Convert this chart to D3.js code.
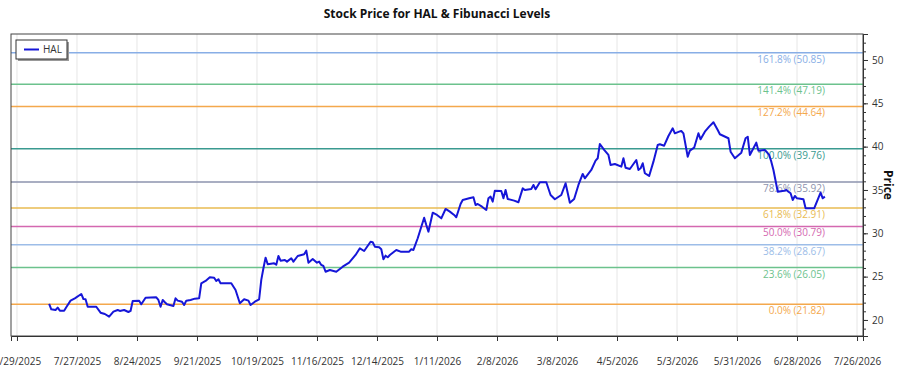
<!DOCTYPE html>
<html>
<head>
<meta charset="utf-8">
<script src="https://cdn.jsdelivr.net/npm/d3@7"></script>
<style>
  body { margin: 0; background: #fff; }
  svg { font-family: "Open Sans", "Noto Sans", sans-serif; }
</style>
</head>
<body>
<svg></svg>
<script>
// Data
var ticker = 'HAL';
var dates = ['2025-07-14','2025-07-15','2025-07-17','2025-07-18','2025-07-19','2025-07-21','2025-07-22','2025-07-24','2025-07-26','2025-07-29',
  '2025-07-30','2025-07-31','2025-08-01','2025-08-05','2025-08-07','2025-08-09','2025-08-11','2025-08-13','2025-08-15','2025-08-16',
  '2025-08-18','2025-08-20','2025-08-21','2025-08-22','2025-08-25','2025-08-26','2025-08-28','2025-09-02','2025-09-03','2025-09-04',
  '2025-09-05','2025-09-06','2025-09-07','2025-09-10','2025-09-11','2025-09-12','2025-09-14','2025-09-15','2025-09-16','2025-09-18',
  '2025-09-20','2025-09-22','2025-09-23','2025-09-25','2025-09-27','2025-09-29','2025-09-30','2025-10-01','2025-10-02','2025-10-07',
  '2025-10-09','2025-10-11','2025-10-13','2025-10-15','2025-10-16','2025-10-18','2025-10-20','2025-10-21','2025-10-22','2025-10-23',
  '2025-10-24','2025-10-27','2025-10-28','2025-10-29','2025-10-30','2025-11-01','2025-11-02','2025-11-04','2025-11-05','2025-11-07',
  '2025-11-10','2025-11-11','2025-11-12','2025-11-14','2025-11-16','2025-11-17','2025-11-18','2025-11-19','2025-11-20','2025-11-22',
  '2025-11-25','2025-11-28','2025-12-01','2025-12-04','2025-12-06','2025-12-08','2025-12-11','2025-12-12','2025-12-13','2025-12-15',
  '2025-12-16','2025-12-17','2025-12-18','2025-12-19','2025-12-20','2025-12-23','2025-12-25','2025-12-29','2025-12-30','2025-12-31',
  '2026-01-02','2026-01-05','2026-01-06','2026-01-07','2026-01-09','2026-01-11','2026-01-13','2026-01-15','2026-01-17','2026-01-19',
  '2026-01-20','2026-01-22','2026-01-23','2026-01-26','2026-01-28','2026-01-29','2026-01-30','2026-02-01','2026-02-03','2026-02-04',
  '2026-02-05','2026-02-06','2026-02-07','2026-02-10','2026-02-11','2026-02-12','2026-02-13','2026-02-16','2026-02-18','2026-02-20',
  '2026-02-21','2026-02-24','2026-02-25','2026-02-26','2026-02-28','2026-03-03','2026-03-05','2026-03-07','2026-03-10','2026-03-12',
  '2026-03-14','2026-03-16','2026-03-18','2026-03-20','2026-03-21','2026-03-24','2026-03-26','2026-03-27','2026-03-28','2026-03-30',
  '2026-04-01','2026-04-02','2026-04-04','2026-04-07','2026-04-08','2026-04-09','2026-04-11','2026-04-14','2026-04-15','2026-04-16',
  '2026-04-17','2026-04-18','2026-04-20','2026-04-22','2026-04-24','2026-04-25','2026-04-27','2026-04-29','2026-05-01','2026-05-02',
  '2026-05-04','2026-05-05','2026-05-06','2026-05-08','2026-05-09','2026-05-11','2026-05-13','2026-05-14','2026-05-16','2026-05-18',
  '2026-05-20','2026-05-22','2026-05-23','2026-05-27','2026-05-28','2026-05-30','2026-06-02','2026-06-04','2026-06-05','2026-06-06',
  '2026-06-09','2026-06-10','2026-06-13','2026-06-15','2026-06-16','2026-06-17','2026-06-19','2026-06-22','2026-06-23','2026-06-24',
  '2026-06-25','2026-06-26','2026-06-27','2026-06-28','2026-07-01','2026-07-02','2026-07-06','2026-07-09','2026-07-10','2026-07-11'];
var prices = [21.85,21.23,21.15,21.42,21.07,21.07,21.47,22.23,22.50,23.00,
  22.42,22.39,21.53,21.53,20.84,20.69,20.38,20.96,21.15,21.04,
  21.15,20.92,21.04,22.19,22.23,21.81,22.57,22.62,22.31,21.53,
  22.31,22.04,21.81,21.62,22.50,22.23,22.11,21.73,22.23,22.31,
  22.46,22.50,24.23,24.50,24.93,24.88,24.50,24.70,24.23,24.23,
  23.46,21.93,22.39,22.23,21.73,22.11,22.39,24.62,25.97,27.19,
  26.43,26.54,26.38,27.38,26.84,26.92,26.73,27.12,26.73,27.38,
  27.58,28.00,26.61,27.04,26.61,26.73,26.35,26.23,25.57,25.77,
  25.57,26.15,26.61,27.50,28.27,27.96,29.03,28.97,28.46,28.39,
  28.16,27.00,27.42,27.23,27.50,28.08,27.88,27.88,28.16,28.08,
  29.43,31.80,30.96,30.19,32.38,32.12,31.73,32.81,32.50,32.12,
  31.85,33.38,33.85,34.04,34.16,33.27,33.38,33.07,32.69,34.04,
  34.23,33.65,34.92,34.88,34.04,35.00,33.96,33.77,33.58,35.19,
  35.00,35.12,35.58,35.08,35.89,35.89,34.42,33.93,34.42,35.77,
  33.53,33.96,35.58,36.85,36.35,37.31,38.38,38.66,40.31,39.62,
  39.04,37.88,38.00,37.69,38.66,37.57,37.42,38.46,37.31,37.50,
  38.08,36.93,36.62,38.27,40.19,40.27,40.11,41.23,42.12,41.54,
  41.73,41.81,41.54,38.84,39.54,39.88,41.54,40.85,41.73,42.31,
  42.81,41.92,41.43,40.97,39.42,38.66,39.31,40.97,41.15,39.04,
  40.46,39.54,39.62,39.04,38.27,37.31,34.80,34.92,35.00,34.80,
  34.62,33.85,34.31,34.04,33.93,32.89,32.89,34.69,34.04,34.23];

var fibRatios = ['0.0%','23.6%','38.2%','50.0%','61.8%','78.6%','100.0%','127.2%','141.4%','161.8%'];
var fibPrices = [21.82, 26.05, 28.67, 30.79, 32.91, 35.92, 39.76, 44.64, 47.19, 50.85];
var fibColors = ['#f4a84c','#6cc28d','#9dbde8','#d468b0','#e9bb52','#8d93ae','#3a9a90','#f4a84c','#6cc28d','#88aee6'];

var xStart = '2025-06-26', xEnd = '2026-07-28';
var tickStart = '2025-06-29', tickStepDays = 28, tickCount = 15;
var yTicks = [20, 25, 30, 35, 40, 45, 50];

// Layout
var width = 900, height = 375;
var margin = {top: 34, right: 37, bottom: 39, left: 11};
var plotW = width - margin.left - margin.right;
var plotH = height - margin.top - margin.bottom;

var svg = d3.select('svg').attr('width', width).attr('height', height);
var parse = d3.utcParse('%Y-%m-%d');
var fmt = d3.utcFormat('%-m/%-d/%Y');

var series = dates.map(function(d, i) { return {date: parse(d), price: prices[i]}; });

var x = d3.scaleUtc()
    .domain([d3.utcHour.offset(parse(xStart), 5), d3.utcHour.offset(parse(xEnd), 19)])
    .range([0, plotW]);
var y = d3.scaleLinear().domain([18.15, 53.0]).range([plotH, 0]);

var xTickVals = d3.range(tickCount).map(function(i) { return d3.utcDay.offset(parse(tickStart), i * tickStepDays); });

var g = svg.append('g').attr('transform', 'translate(' + margin.left + ',' + margin.top + ')');

// vertical grid
g.selectAll('.vgrid')
    .data(xTickVals.filter(function(d) { return x(d) > 0 && x(d) < plotW; }))
    .enter().append('line')
    .attr('class', 'vgrid')
    .attr('x1', function(d) { return x(d); })
    .attr('x2', function(d) { return x(d); })
    .attr('y1', 0).attr('y2', plotH)
    .attr('stroke', '#e6e6e6').attr('stroke-width', 1);

// fibonacci levels
var fib = g.selectAll('.fib')
    .data(fibPrices)
    .enter().append('g').attr('class', 'fib');
fib.append('line')
    .attr('x1', 0).attr('x2', plotW)
    .attr('y1', function(d) { return y(d); })
    .attr('y2', function(d) { return y(d); })
    .attr('stroke', function(d, i) { return fibColors[i]; })
    .attr('stroke-width', 1.5);
fib.append('text')
    .attr('x', 814)
    .attr('y', function(d) { return y(d) + 10; })
    .attr('text-anchor', 'end')
    .attr('font-size', 10)
    .attr('fill', function(d, i) { return fibColors[i]; })
    .text(function(d, i) { return fibRatios[i] + ' (' + d.toFixed(2) + ')'; });

// price line
var line = d3.line()
    .x(function(d) { return x(d.date); })
    .y(function(d) { return y(d.price); });
g.append('path')
    .datum(series)
    .attr('d', line)
    .attr('fill', 'none')
    .attr('stroke', '#1616d8')
    .attr('stroke-width', 2)
    .attr('stroke-linejoin', 'round');

// frame
g.append('rect')
    .attr('width', plotW).attr('height', plotH)
    .attr('fill', 'none').attr('stroke', '#444').attr('stroke-width', 1);

// axes
var xAxis = g.append('g')
    .attr('transform', 'translate(0,' + plotH + ')')
    .call(d3.axisBottom(x).tickValues(xTickVals).tickFormat(fmt).tickSize(5).tickPadding(17));
var yAxisMinor = g.append('g')
    .attr('transform', 'translate(' + plotW + ',0)')
    .call(d3.axisRight(y).tickValues(d3.range(19, 53)).tickFormat('').tickSize(3));
var yAxis = g.append('g')
    .attr('transform', 'translate(' + plotW + ',0)')
    .call(d3.axisRight(y).tickValues(yTicks).tickSize(5).tickPadding(4));
[xAxis, yAxis, yAxisMinor].forEach(function(a) {
    a.select('.domain').attr('stroke', '#333');
    a.selectAll('.tick line').attr('stroke', '#333');
    a.selectAll('text').attr('font-size', 10).attr('fill', '#333')
        .attr('font-family', '"Open Sans", "Noto Sans", sans-serif');
});

// title
svg.append('text')
    .attr('x', margin.left + plotW / 2)
    .attr('y', 18)
    .attr('text-anchor', 'middle')
    .attr('font-size', 12)
    .attr('font-weight', 'bold')
    .attr('fill', '#111')
    .text('Stock Price for ' + ticker + ' & Fibunacci Levels');

// y label
svg.append('text')
    .attr('transform', 'translate(884,' + (margin.top + plotH / 2) + ') rotate(90)')
    .attr('text-anchor', 'middle')
    .attr('font-size', 12)
    .attr('font-weight', 'bold')
    .attr('fill', '#111')
    .text('Price');

// legend
var legend = svg.append('g').attr('transform', 'translate(16,40)');
legend.append('rect')
    .attr('x', 2).attr('y', 2).attr('width', 51).attr('height', 19)
    .attr('fill', '#999');
legend.append('rect')
    .attr('width', 51).attr('height', 19)
    .attr('fill', '#fff').attr('stroke', '#333').attr('stroke-width', 1);
legend.append('line')
    .attr('x1', 8).attr('x2', 23).attr('y1', 9.5).attr('y2', 9.5)
    .attr('stroke', '#1616d8').attr('stroke-width', 2);
legend.append('text')
    .attr('x', 27).attr('y', 13)
    .attr('font-size', 10).attr('fill', '#333')
    .text(ticker);
</script>
</body>
</html>
